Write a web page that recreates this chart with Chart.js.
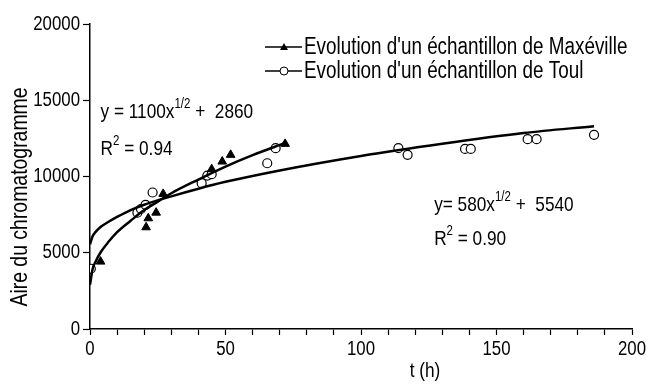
<!DOCTYPE html>
<html>
<head>
<meta charset="utf-8">
<script src="https://cdn.jsdelivr.net/npm/chart.js@4.4.1/dist/chart.umd.min.js"></script>
<style>
  html, body { margin: 0; padding: 0; background: #fff; }
  #wrap { width: 647px; height: 386px; }
</style>
</head>
<body>
<div id="wrap"><canvas id="chart" width="647" height="386"></canvas></div>
<script>
// values
var tMaxeville = [3.9, 20.7, 21.5, 24.4, 27, 44.9, 48.8, 51.9, 72]
var aireMaxeville = [4420, 6670, 7260, 7630, 8860, 10480, 10980, 11420, 12140]

var tToul = [0.3, 17.5, 18.8, 20.5, 23.1, 41.2, 43.3, 44.9, 65.4, 68.5, 113.8, 117.2, 138.4, 140.5, 161.5, 164.8, 186]
var aireToul = [3950, 7630, 7870, 8140, 8950, 9560, 10060, 10150, 10870, 11860, 11860, 11420, 11810, 11810, 12450, 12450, 12730]

// fitted curves
var tFitMaxeville = [0, 1, 2, 4, 7, 10, 15, 20, 25, 30, 40, 50, 60, 72]
var aireFitMaxeville = [2900, 3950, 4400, 5050, 5750, 6350, 7100, 7800, 8350, 8900, 9800, 10650, 11400, 12200]
var tFitToul = [0, 1, 2, 4, 7, 10, 15, 20, 30, 40, 50, 70, 100, 130, 160, 186]
var aireFitToul = [5550, 6100, 6350, 6700, 7050, 7350, 7800, 8150, 8700, 9200, 9650, 10400, 11350, 12150, 12850, 13300]

var xTicks = [0, 50, 100, 150, 200]
var yTicks = [0, 5000, 10000, 15000, 20000]
var seriesNames = ["Evolution d'un échantillon de Maxéville", "Evolution d'un échantillon de Toul"]

// no Arial Narrow installed: squeeze Liberation Sans instead
var FONT = "'Liberation Sans', Arial, sans-serif"
var SQUEEZE = 0.82

function pts(xs, ys) {
	var out = []
	for (var i = 0; i < xs.length; i++) out.push({x: xs[i], y: ys[i]})
	return out
}

function narrowText(c, text, x, y, size, align) {
	c.save()
	c.font = size + 'px ' + FONT
	c.textAlign = align || 'left'
	c.translate(x, y)
	c.scale(SQUEEZE, 1)
	c.fillText(text, 0, 0)
	var w = c.measureText(text).width * SQUEEZE
	c.restore()
	return w
}

// equations, anchored in data space
var equations = [
	{x: 3.9, y: 14200, parts: [['y = 1100x', 0], ['1/2', 1], [' +  2860', 0]]},
	{x: 3.9, y: 11800, parts: [['R', 0], ['2', 1], [' = 0.94', 0]]},
	{x: 127, y: 8100, parts: [['y= 580x', 0], ['1/2', 1], [' +  5540', 0]]},
	{x: 127, y: 5900, parts: [['R', 0], ['2', 1], [' = 0.90', 0]]}
]

var extras = {
	id: 'extras',
	afterDraw: function(chart) {
		var c = chart.ctx
		var xs = chart.scales.x, ys = chart.scales.y
		var area = chart.chartArea
		c.save()
		c.fillStyle = '#000'
		c.strokeStyle = '#000'
		c.textBaseline = 'middle'

		// tick labels
		xTicks.forEach(function(v) {
			narrowText(c, String(v), xs.getPixelForValue(v), area.bottom + 20, 20.5, 'center')
		})
		yTicks.forEach(function(v) {
			narrowText(c, String(v), area.left - 10, ys.getPixelForValue(v), 20.5, 'right')
		})

		// equations with superscripts
		equations.forEach(function(eq) {
			var px = xs.getPixelForValue(eq.x)
			var py = ys.getPixelForValue(eq.y)
			eq.parts.forEach(function(p) {
				if (p[1]) px += narrowText(c, p[0], px, py - 8, 14)
				else px += narrowText(c, p[0], px, py, 21)
			})
		})

		// legend
		var lx = 265, ly = [47, 71]
		for (var i = 0; i < 2; i++) {
			c.lineWidth = 1.5
			c.beginPath()
			c.moveTo(lx, ly[i])
			c.lineTo(lx + 37, ly[i])
			c.stroke()
			var mx = lx + 19
			if (i === 0) {
				c.beginPath()
				c.moveTo(mx, ly[i] - 4)
				c.lineTo(mx + 4, ly[i] + 3)
				c.lineTo(mx - 4, ly[i] + 3)
				c.closePath()
				c.fill()
			} else {
				c.beginPath()
				c.arc(mx, ly[i], 4, 0, Math.PI * 2)
				c.fillStyle = '#fff'
				c.fill()
				c.lineWidth = 1
				c.stroke()
				c.fillStyle = '#000'
			}
			narrowText(c, seriesNames[i], lx + 39, ly[i] + 1, 23)
		}

		// axis titles
		narrowText(c, 't (h)', 425, 371, 21, 'center')
		c.translate(20, 197)
		c.rotate(-Math.PI / 2)
		narrowText(c, 'Aire du chromatogramme', 0, 0, 23.7, 'center')
		c.restore()
	}
}

var ctx = document.getElementById('chart').getContext('2d')
var myChart = new Chart(ctx, {
	type: 'scatter',
	data: {
		datasets: [
			{
				label: 'fit Maxéville',
				data: pts(tFitMaxeville, aireFitMaxeville),
				showLine: true, borderColor: '#000', borderWidth: 2.5,
				pointRadius: 0, cubicInterpolationMode: 'monotone'
			},
			{
				label: 'fit Toul',
				data: pts(tFitToul, aireFitToul),
				showLine: true, borderColor: '#000', borderWidth: 2.5,
				pointRadius: 0, cubicInterpolationMode: 'monotone'
			},
			{
				label: seriesNames[0],
				data: pts(tMaxeville, aireMaxeville),
				pointStyle: 'triangle', pointRadius: 5,
				backgroundColor: '#000', borderColor: '#000', borderWidth: 1
			},
			{
				label: seriesNames[1],
				data: pts(tToul, aireToul),
				pointStyle: 'circle', pointRadius: 4.5,
				backgroundColor: '#fff', borderColor: '#000', borderWidth: 1.2
			}
		]
	},
	options: {
		responsive: false,
		animation: false,
		layout: {padding: {top: 24, right: 15, left: 0, bottom: 0}},
		plugins: {legend: {display: false}, tooltip: {enabled: false}},
		scales: {
			x: {
				type: 'linear', min: 0, max: 200,
				afterFit: function(s) { s.height = 57 },
				afterBuildTicks: function(s) {
					var t = []
					for (var v = 0; v <= 200; v += 10) t.push({value: v})
					s.ticks = t
				},
				ticks: {display: false, autoSkip: false},
				grid: {drawOnChartArea: false, color: '#000', tickLength: 6, tickWidth: 1.2},
				border: {color: '#000', width: 1.5}
			},
			y: {
				type: 'linear', min: 0, max: 20000,
				afterFit: function(s) { s.width = 90 },
				afterBuildTicks: function(s) {
					s.ticks = yTicks.map(function(v) { return {value: v} })
				},
				ticks: {display: false},
				grid: {drawOnChartArea: false, color: '#000', tickLength: 7, tickWidth: 1.2},
				border: {color: '#000', width: 1.5}
			}
		}
	},
	plugins: [extras]
})
</script>
</body>
</html>
